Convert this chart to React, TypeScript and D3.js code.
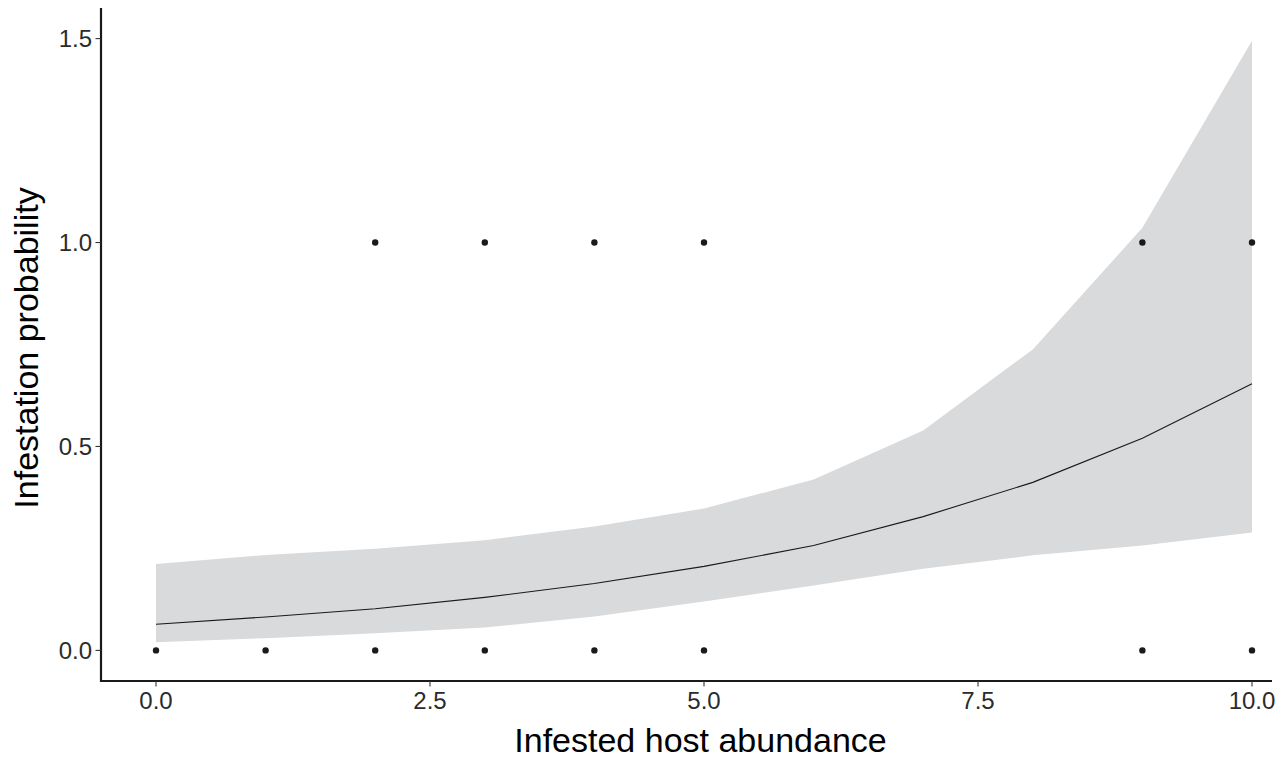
import React from "react";
import * as d3 from "d3";

const fitX = [0, 1, 2, 3, 4, 5, 6, 7, 8, 9, 10];
const fitY = [0.064, 0.082, 0.102, 0.13, 0.164, 0.206, 0.257, 0.328, 0.412, 0.52, 0.654];
const fitLower = [0.02, 0.03, 0.042, 0.056, 0.083, 0.12, 0.159, 0.2, 0.233, 0.257, 0.289];
const fitUpper = [0.212, 0.234, 0.249, 0.27, 0.304, 0.348, 0.419, 0.539, 0.738, 1.036, 1.495];

const obsX = [0, 1, 2, 3, 4, 5, 9, 10, 2, 3, 4, 5, 9, 10];
const obsY = [0, 0, 0, 0, 0, 0, 0, 0, 1, 1, 1, 1, 1, 1];

const xTicks = [0, 2.5, 5, 7.5, 10];
const yTicks = [0, 0.5, 1, 1.5];

export default function App() {
  const W = 1288, H = 758;
  const left = 101, right = 1272, top = 8, bottom = 681;
  const x = d3.scaleLinear().domain([0, 10]).range([156, 1252]);
  const y = d3.scaleLinear().domain([-0.075, 1.575]).range([bottom, top]);

  const idx = fitX.map((_, i) => i);
  const area = d3.area<number>()
    .x((i) => x(fitX[i]))
    .y0((i) => y(fitLower[i]))
    .y1((i) => y(fitUpper[i]))(idx) || "";
  const line = d3.line<number>()
    .x((i) => x(fitX[i]))
    .y((i) => y(fitY[i]))(idx) || "";

  const font = "'Liberation Sans', Arial, Helvetica, sans-serif";
  return (
    <svg width={W} height={H} style={{ position: "absolute", left: 0, top: 0 }} fontFamily={font}>
      <rect width={W} height={H} fill="#fff" />
      <path d={area} fill="#d9dadc" />
      <path d={line} fill="none" stroke="#1a1a1a" strokeWidth={1.1} />
      {obsX.map((v, i) => (
        <circle key={i} cx={x(v)} cy={y(obsY[i])} r={3.2} fill="#1a1a1a" />
      ))}
      <line x1={left} x2={left} y1={top} y2={bottom + 1} stroke="#1a1a1a" strokeWidth={2.2} />
      <line x1={left - 1} x2={right} y1={bottom} y2={bottom} stroke="#1a1a1a" strokeWidth={2.2} />
      {yTicks.map((t) => (
        <g key={t}>
          <line x1={left - 5.5} x2={left} y1={y(t)} y2={y(t)} stroke="#333" strokeWidth={1.1} />
          <text x={92} y={y(t)} dy="0.36em" textAnchor="end" fontSize={24} fill="#2b2b2b">
            {t.toFixed(1)}
          </text>
        </g>
      ))}
      {xTicks.map((t) => (
        <g key={t}>
          <line x1={x(t)} x2={x(t)} y1={bottom} y2={bottom + 5.5} stroke="#333" strokeWidth={1.1} />
          <text x={x(t)} y={708.5} textAnchor="middle" fontSize={24} fill="#2b2b2b">
            {t.toFixed(1)}
          </text>
        </g>
      ))}
      <text x={(left + right) / 2 + 14} y={752} textAnchor="middle" fontSize={34} fill="#000">
        Infested host abundance
      </text>
      <text transform={`translate(38, 348) rotate(-90)`} textAnchor="middle" fontSize={34} fill="#000">
        Infestation probability
      </text>
    </svg>
  );
}
